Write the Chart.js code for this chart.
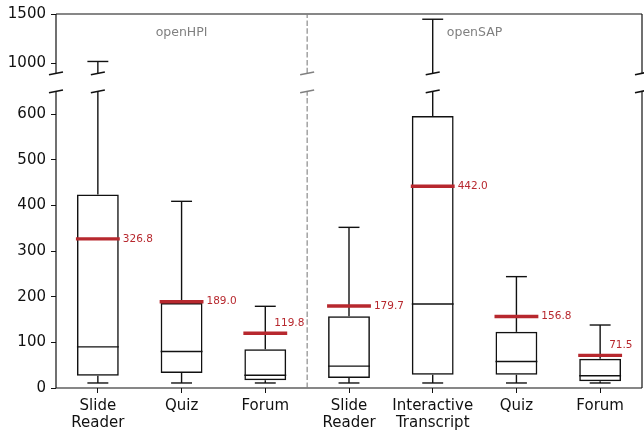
<!DOCTYPE html>
<html>
<head>
<meta charset="utf-8">
<script src="https://cdn.jsdelivr.net/npm/chart.js@4.4.1/dist/chart.umd.min.js"></script>
<style>
  html, body { margin: 0; padding: 0; background: #fff; }
  #wrap { width: 644px; height: 433px; }
</style>
</head>
<body>
<div id="wrap"><canvas id="c"></canvas></div>
<script>
// Box-plot statistics per tool (time values), two platforms side by side
const categories = [['Slide', 'Reader'], 'Quiz', 'Forum', ['Slide', 'Reader'], ['Interactive', 'Transcript'], 'Quiz', 'Forum'];
const platforms = ['openHPI', 'openSAP'];
const platformOf = [0, 0, 0, 1, 1, 1, 1];
const whiskerLow = [11, 11, 11, 11, 11, 11, 11];
const q1 = [27, 33, 17, 22, 29, 29, 15];
const median = [90, 80, 28, 48, 184, 58, 27];
const q3 = [424, 186, 85, 157, 596, 123, 64];
const whiskerHigh = [1020, 409, 179, 352, 1447, 244, 138];
const mean = [326.8, 189.0, 119.8, 179.7, 442.0, 156.8, 71.5];
const lowerTicks = [0, 100, 200, 300, 400, 500, 600];
const upperTicks = [1000, 1500];
const lowerRange = [0, 650];
const upperRange = [900, 1500];

const FONT = "'DejaVu Sans', sans-serif";
const INK = '#111';
const RED = '#b7282e';
const GREY = '#808080';
const BREAK_GAP = 18;      // px between the two y panels
const UPPER_SHARE = 1 / 6; // upper panel : lower panel = 1 : 5

// Linear scale with a broken y range: [lowerRange] below, [upperRange] above
class BrokenLinearScale extends Chart.LinearScale {
  panels() {
    const avail = this.bottom - this.top - BREAK_GAP;
    const upH = avail * UPPER_SHARE;
    return { upTop: this.top, upBot: this.top + upH, loTop: this.top + upH + BREAK_GAP, loBot: this.bottom };
  }
  buildTicks() {
    return lowerTicks.concat(upperTicks).map(v => ({ value: v }));
  }
  getPixelForValue(v) {
    const p = this.panels();
    if (v >= upperRange[0]) {
      return p.upBot - (v - upperRange[0]) / (upperRange[1] - upperRange[0]) * (p.upBot - p.upTop);
    }
    if (v <= lowerRange[1]) {
      return p.loBot - (v - lowerRange[0]) / (lowerRange[1] - lowerRange[0]) * (p.loBot - p.loTop);
    }
    return (p.upBot + p.loTop) / 2;
  }
  getValueForPixel(px) {
    const p = this.panels();
    if (px <= p.upBot) {
      return upperRange[0] + (p.upBot - px) / (p.upBot - p.upTop) * (upperRange[1] - upperRange[0]);
    }
    if (px >= p.loTop) {
      return lowerRange[0] + (p.loBot - px) / (p.loBot - p.loTop) * (lowerRange[1] - lowerRange[0]);
    }
    return (lowerRange[1] + upperRange[0]) / 2;
  }
}
BrokenLinearScale.id = 'brokenLinear';
BrokenLinearScale.defaults = Chart.LinearScale.defaults;
Chart.register(BrokenLinearScale);

// Whiskers, medians, means, spines and break marks
const boxDecor = {
  id: 'boxDecor',
  afterDatasetsDraw(chart, args, opts) {
    const ctx = chart.ctx;
    const x = chart.scales.x, y = chart.scales.y;
    const area = chart.chartArea;
    const p = y.panels();
    const step = x.getPixelForValue(1) - x.getPixelForValue(0);
    const boxHalf = step * 0.25;
    const capHalf = boxHalf * 0.5;

    const line = (x1, y1, x2, y2, color, w, dash) => {
      ctx.save();
      ctx.strokeStyle = color; ctx.lineWidth = w; ctx.lineCap = 'butt';
      ctx.setLineDash(dash || []);
      ctx.beginPath(); ctx.moveTo(x1, y1); ctx.lineTo(x2, y2); ctx.stroke();
      ctx.restore();
    };
    const breakMark = (cx, cy, color) => line(cx - 7, cy + 1.4, cx + 7, cy - 1.4, color, 1.6);
    // vertical segment between two values, interrupted at the break
    const vseg = (cx, v1, v2, color, w, dash) => {
      const lo = Math.min(v1, v2), hi = Math.max(v1, v2);
      if (lo <= lowerRange[1]) {
        line(cx, y.getPixelForValue(lo), cx, y.getPixelForValue(Math.min(hi, lowerRange[1])), color, w, dash);
      }
      if (hi >= upperRange[0]) {
        line(cx, y.getPixelForValue(Math.max(lo, upperRange[0])), cx, y.getPixelForValue(hi), color, w, dash);
      }
      if (lo <= lowerRange[1] && hi >= upperRange[0]) {
        breakMark(cx, p.upBot, color);
        breakMark(cx, p.loTop, color);
      }
    };

    // spines
    line(area.left, area.top, area.right, area.top, INK, 1.2);
    line(area.left, area.bottom, area.right, area.bottom, INK, 1.2);
    vseg(area.left, lowerRange[0], upperRange[1], INK, 1.2);
    vseg(area.right, lowerRange[0], upperRange[1], INK, 1.2);

    // platform separator
    const sepX = (x.getPixelForValue(2) + x.getPixelForValue(3)) / 2;
    vseg(sepX, lowerRange[0], upperRange[1], GREY, 1.1, [5.5, 2.4]);

    // platform names, centred over their groups
    ctx.save();
    ctx.font = '12.5px ' + FONT;
    ctx.fillStyle = GREY;
    ctx.textAlign = 'center';
    ctx.textBaseline = 'middle';
    platforms.forEach((name, g) => {
      const idx = platformOf.map((pg, i) => pg === g ? i : -1).filter(i => i >= 0);
      const cx = (x.getPixelForValue(idx[0]) + x.getPixelForValue(idx[idx.length - 1])) / 2;
      ctx.fillText(name, cx, y.getPixelForValue(1310));
    });
    ctx.restore();

    categories.forEach((c, i) => {
      const cx = x.getPixelForValue(i);
      // whiskers and caps
      vseg(cx, q3[i], whiskerHigh[i], INK, 1.4);
      vseg(cx, whiskerLow[i], q1[i], INK, 1.4);
      const yHi = y.getPixelForValue(whiskerHigh[i]);
      const yLo = y.getPixelForValue(whiskerLow[i]);
      line(cx - capHalf, yHi, cx + capHalf, yHi, INK, 1.4);
      line(cx - capHalf, yLo, cx + capHalf, yLo, INK, 1.4);
      // median
      const yMed = y.getPixelForValue(median[i]);
      line(cx - boxHalf, yMed, cx + boxHalf, yMed, INK, 1.4);
      // mean
      const yMean = y.getPixelForValue(mean[i]);
      line(cx - boxHalf - 1, yMean, cx + boxHalf + 1, yMean, RED, 3.4);
      ctx.save();
      ctx.font = '10.5px ' + FONT;
      ctx.fillStyle = RED;
      ctx.textAlign = 'left';
      ctx.textBaseline = 'middle';
      const lift = opts.lift[i];
      const tx = lift ? cx + 9 : cx + boxHalf + 4;
      ctx.fillText(mean[i].toFixed(1), tx, yMean - lift);
      ctx.restore();
    });
  }
};

Chart.defaults.font.family = FONT;

new Chart(document.getElementById('c'), {
  type: 'bar',
  data: {
    labels: categories,
    datasets: [{
      label: 'IQR',
      data: q1.map((v, i) => [v, q3[i]]),
      backgroundColor: 'rgba(255,255,255,0)',
      borderColor: INK,
      borderWidth: 1.5,
      borderSkipped: false,
      categoryPercentage: 1,
      barPercentage: 0.5
    }]
  },
  options: {
    responsive: true,
    maintainAspectRatio: false,
    animation: false,
    devicePixelRatio: 1,
    layout: { padding: { top: 14, right: 2, left: 0, bottom: 0 } },
    plugins: {
      legend: { display: false },
      tooltip: { enabled: false },
      boxDecor: { lift: [0, 0, 10, 0, 0, 0, 10] }
    },
    scales: {
      x: {
        type: 'category',
        offset: true,
        grid: { display: true, drawOnChartArea: false, drawTicks: true, tickLength: 5, color: INK, offset: false },
        border: { display: false },
        ticks: { color: INK, font: { size: 15, family: FONT, lineHeight: 1.17 }, padding: 4, maxRotation: 0, autoSkip: false },
        afterFit: s => { s.height = 45; }
      },
      y: {
        type: 'brokenLinear',
        min: 0,
        max: 1500,
        grid: { display: true, drawOnChartArea: false, drawTicks: true, tickLength: 5, color: INK },
        border: { display: false },
        ticks: { color: INK, font: { size: 15, family: FONT }, padding: 5, autoSkip: false, callback: v => String(v) },
        afterFit: s => { s.width = 56; }
      }
    }
  },
  plugins: [boxDecor]
});
</script>
</body>
</html>
